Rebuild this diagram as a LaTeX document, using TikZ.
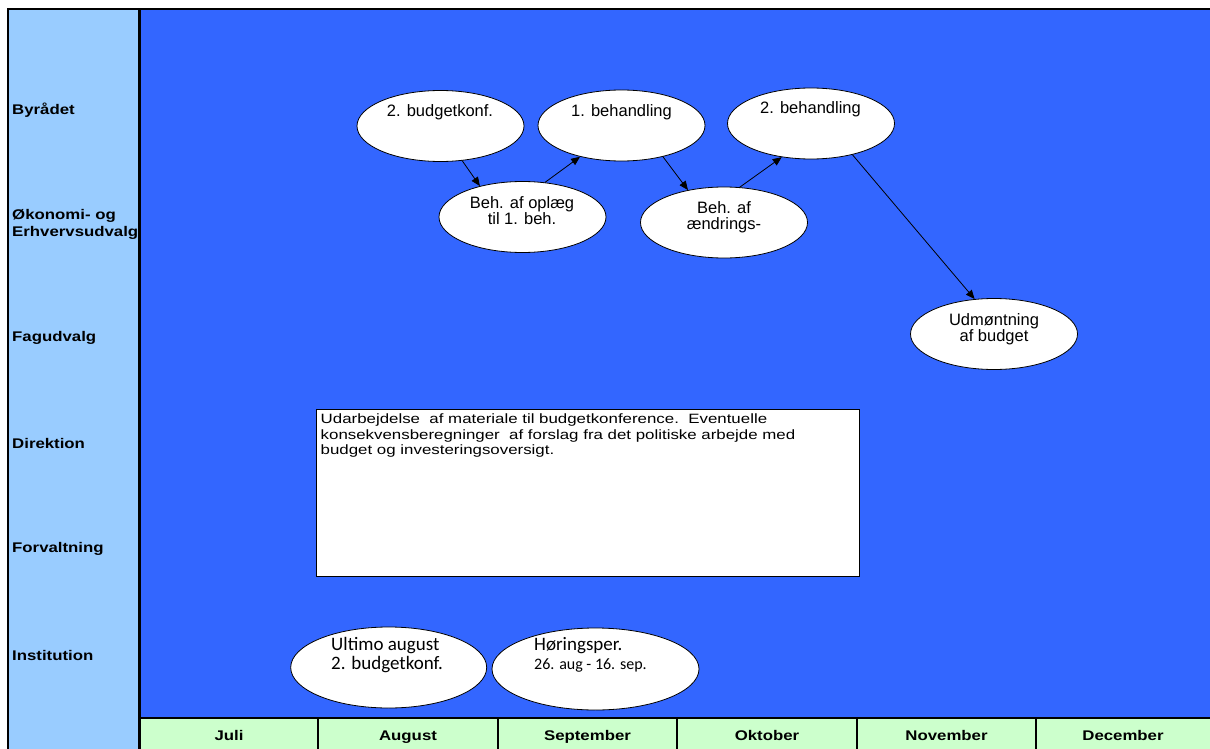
\documentclass[tikz,border=0pt]{standalone}
\usepackage{fontspec}
\setmainfont{Liberation Sans}
\newfontfamily\lblfont[FakeStretch=1.2]{Liberation Sans}
\newfontfamily\boxfont[FakeStretch=1.25]{Liberation Sans}
\newfontfamily\calfont{Carlito}
\usetikzlibrary{shapes.geometric,arrows.meta}
\definecolor{bluebg}{RGB}{51,102,255}
\definecolor{leftbg}{RGB}{153,204,255}
\definecolor{monthbg}{RGB}{204,255,204}
\begin{document}
\begin{tikzpicture}[x=1pt,y=-1pt,
  frame/.style={line width=2.5pt,black},
  ev/.style={ellipse,draw=black,line width=0.8pt,fill=white,inner sep=0pt,minimum width=167pt,minimum height=71pt},
  rowlbl/.style={anchor=west,font=\lblfont\bfseries\fontsize{14}{17}\selectfont,align=left,inner sep=0pt},
  mon/.style={font=\lblfont\bfseries\fontsize{14}{17}\selectfont,inner sep=0pt,anchor=base},
  etxt/.style={font=\fontsize{16.5}{16}\selectfont,align=center,inner sep=0pt},
  ctxt/.style={font=\calfont\fontsize{19}{18.5}\selectfont,align=left,inner sep=0pt,anchor=west},
  arr/.style={-{Triangle[length=9pt,width=7.5pt]},line width=0.8pt}
]
\useasboundingbox (0,0) rectangle (1210,749);
\fill[white] (0,0) rectangle (1210,749);
\fill[leftbg] (8,9) rectangle (139.5,749);
\fill[bluebg] (139.5,9) rectangle (1210,718);
\fill[monthbg] (139.5,718) rectangle (1210,749);
\draw[frame] (8,749) -- (8,9) -- (1210,9);
\draw[frame] (139.5,9) -- (139.5,749);
\draw[frame] (139.5,718) -- (1210,718);
\foreach \mx in {318,498,677,857,1036} {\draw[line width=2.2pt] (\mx,718) -- (\mx,749);}

% row labels
\node[rowlbl] (r1) at (12,110) {Byrådet};
\node[rowlbl] (r2) at (12,224) {Økonomi- og\\Erhvervsudvalg};
\node[rowlbl] (r3) at (12,338) {Fagudvalg};
\node[rowlbl] (r4) at (12,443) {Direktion};
\node[rowlbl] (r5) at (12,549) {Forvaltning};
\node[rowlbl] (r6) at (12,655) {Institution};

% months
\node[mon] (m1) at (229,740) {Juli};
\node[mon] (m2) at (408,740) {August};
\node[mon] (m3) at (587.5,740) {September};
\node[mon] (m4) at (767,740) {Oktober};
\node[mon] (m5) at (946.5,740) {November};
\node[mon] (m6) at (1123,740) {December};

% ellipses
\node[ev] (e1) at (440.5,126) {};
\node[ev] (e2) at (621.5,125.5) {};
\node[ev] (e3) at (811,123.5) {};
\node[ev] (e4) at (522.5,217) {};
\node[ev] (e5) at (724,222.5) {};
\node[ev] (e6) at (994,334) {};
\node[ev,minimum width=196pt,minimum height=81pt] (e7) at (388.7,667.5) {};
\node[ev,minimum width=207pt,minimum height=82pt] (e8) at (595.5,669) {};

\node[etxt] (t1) at (440,112) {2. budgetkonf.};
\node[etxt] (t2) at (621.5,112) {1. behandling};
\node[etxt] (t3) at (810.5,109) {2. behandling};
\node[etxt] (t4) at (522,211) {Beh. af oplæg\\til 1. beh.};
\node[etxt] (t5) at (724,217) {Beh. af\\ændrings-};
\node[etxt] (t6) at (994,329) {Udmøntning\\af budget};
\node[ctxt] (t7) at (331,655) {Ultimo august\\2. budgetkonf.};
\node[ctxt] (t8) at (534,655) {Høringsper.\\{\fontsize{16}{18}\selectfont 26. aug - 16. sep.}};

% rectangle
\node[draw=black,line width=1pt,fill=white,minimum width=543pt,minimum height=167pt,anchor=north west,inner sep=0pt] (box) at (316,409) {};
\node[anchor=north west,inner sep=0pt,align=left,font=\boxfont\fontsize{13.5}{15.5}\selectfont] (boxtxt) at (320.5,414)
  {Udarbejdelse\ \ af materiale til budgetkonference.\ \ Eventuelle\\
   konsekvensberegninger\ \ af forslag fra det politiske arbejde med\\
   budget og investeringsoversigt.};

% arrows
\draw[arr] (e1.-58) -- (e4.144);
\draw[arr] (e4.57) -- (e2.-143);
\draw[arr] (e2.-37) -- (e5.138);
\draw[arr] (e5.66) -- (e3.-131);
\draw[arr] (e3.-37.5) -- (e6.119);
\end{tikzpicture}
\end{document}
